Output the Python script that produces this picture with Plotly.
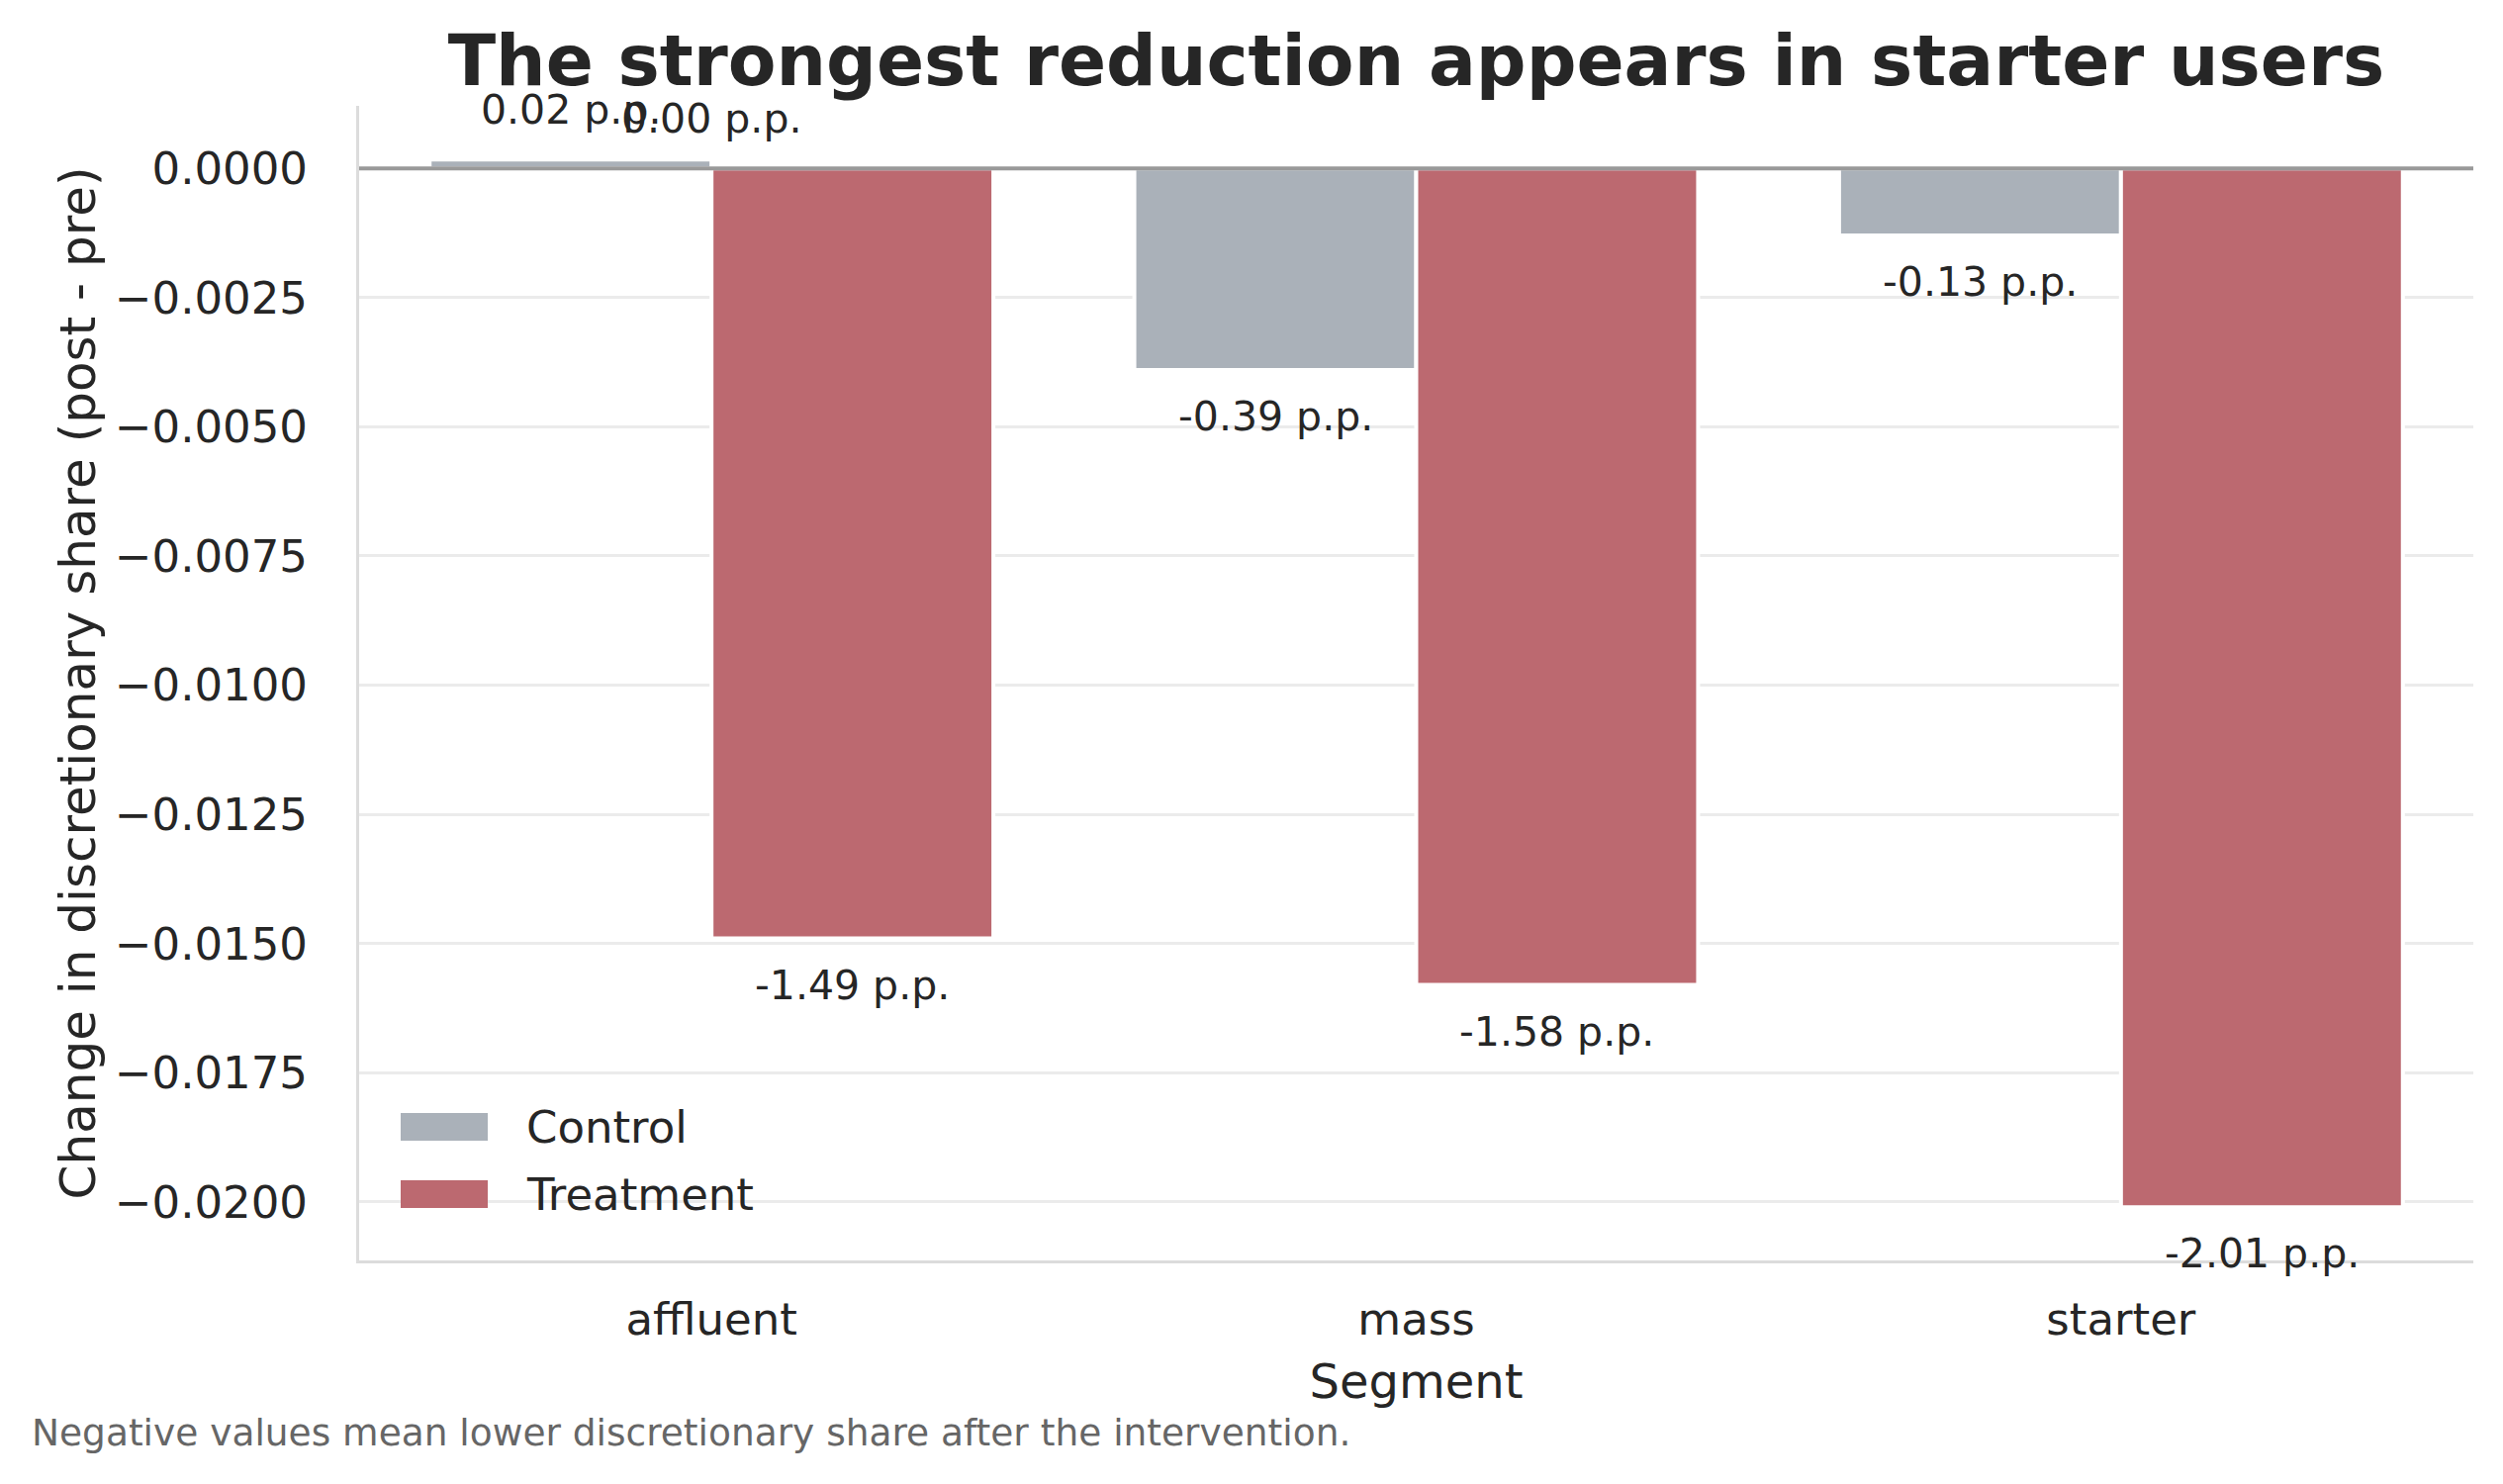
import plotly.graph_objects as go

# ---- data ----
segments = ["affluent", "mass", "starter"]
control_change = [0.00017, -0.0039, -0.0013]
treatment_change = [-0.0149, -0.0158, -0.0201]
extra_label_segments = ["affluent"]
extra_label_values = [0.0]
y_tick_values = [0.0, -0.0025, -0.005, -0.0075, -0.01, -0.0125, -0.015, -0.0175, -0.02]
y_tick_text = ["0.0000", "\u22120.0025", "\u22120.0050", "\u22120.0075", "\u22120.0100",
               "\u22120.0125", "\u22120.0150", "\u22120.0175", "\u22120.0200"]

title_text = "The strongest reduction appears in starter users"
y_title = "Change in discretionary share (post - pre)"
x_title = "Segment"
footnote = "Negative values mean lower discretionary share after the intervention."

CONTROL_COLOR = "#AAB1B9"
TREAT_COLOR = "#BC6970"
TEXT = "#262626"
FONT = "DejaVu Sans"

W, H = 2530, 1500
L, R, T, B = 363, 30, 107, 226
BAR_W = 0.4

xpos = list(range(len(segments)))

fig = go.Figure()
fig.add_trace(go.Bar(
    x=xpos, y=control_change, width=BAR_W, offset=-BAR_W, name="Control",
    marker=dict(color=CONTROL_COLOR, line=dict(color="white", width=4)),
    showlegend=False,
))
fig.add_trace(go.Bar(
    x=xpos, y=treatment_change, width=BAR_W, offset=0, name="Treatment",
    marker=dict(color=TREAT_COLOR, line=dict(color="white", width=4)),
    showlegend=False,
))

annotations = []

def bar_label(xc, v):
    annotations.append(dict(
        x=xc, y=v, xref="x", yref="y", text=f"{v*100:.2f} p.p.",
        showarrow=False, xanchor="center", yanchor="middle",
        yshift=50 if v >= 0 else -47,
        font=dict(family=FONT, size=41, color=TEXT),
    ))

for i, v in enumerate(control_change):
    bar_label(i - BAR_W / 2, v)
for i, v in enumerate(treatment_change):
    bar_label(i + BAR_W / 2, v)
for seg, v in zip(extra_label_segments, extra_label_values):
    bar_label(segments.index(seg), v)

plot_w = W - L - R
plot_h = H - T - B

# custom legend (matplotlib-style wide patches)
legend_items = [("Control", CONTROL_COLOR), ("Treatment", TREAT_COLOR)]
shapes = []
for k, (name, col) in enumerate(legend_items):
    cy = 1139 + 68 * k
    yc = (H - B - cy) / plot_h
    hh = 14 / plot_h
    shapes.append(dict(type="rect", xref="paper", yref="paper",
                       x0=(405 - L) / plot_w, x1=(493 - L) / plot_w,
                       y0=yc - hh, y1=yc + hh, fillcolor=col, line=dict(width=0),
                       layer="above"))
    annotations.append(dict(x=(530 - L) / plot_w, y=yc, xref="paper", yref="paper",
                            text=name, showarrow=False, xanchor="left", yanchor="middle",
                            font=dict(family=FONT, size=45, color=TEXT)))

# zero reference line
shapes.append(dict(type="line", xref="paper", yref="y", x0=0, x1=1, y0=0, y1=0,
                   line=dict(color="#999999", width=4), layer="above"))

annotations.append(dict(x=(30 - L) / plot_w, y=(H - B - 1448) / plot_h,
                        xref="paper", yref="paper", text=footnote, showarrow=False,
                        xanchor="left", yanchor="middle",
                        font=dict(family=FONT, size=37.5, color="#666666")))

fig.update_layout(
    width=W, height=H,
    margin=dict(l=L, r=R, t=T, b=B, pad=0),
    paper_bgcolor="white", plot_bgcolor="white",
    barmode="overlay",
    font=dict(family=FONT, color=TEXT),
    title=dict(text=f"<b>{title_text}</b>", x=(L + plot_w / 2) / W, xanchor="center",
               y=1 - 61 / H, yanchor="middle", yref="container",
               font=dict(family=FONT, size=71, color=TEXT)),
    shapes=shapes,
    annotations=annotations,
)

fig.update_xaxes(
    range=[-0.5, 2.5], tickvals=xpos, ticktext=segments,
    showgrid=False, zeroline=False, showline=True, linecolor="#DCDCDC", linewidth=3,
    ticks="", tickfont=dict(family=FONT, size=45, color=TEXT),
    ticklabelstandoff=18,
    title=dict(text=x_title, font=dict(family=FONT, size=48, color=TEXT), standoff=21),
)
fig.update_yaxes(
    range=[-0.02113, 0.00121], tickvals=y_tick_values, ticktext=y_tick_text,
    showgrid=True, gridcolor="#EBEBEB", gridwidth=2.5,
    zeroline=False, showline=True, linecolor="#DCDCDC", linewidth=3,
    ticks="", tickfont=dict(family=FONT, size=45, color=TEXT),
    ticklabelstandoff=40,
    title=dict(text=y_title, font=dict(family=FONT, size=50, color=TEXT), standoff=4),
)

fig.write_html("out.html")
